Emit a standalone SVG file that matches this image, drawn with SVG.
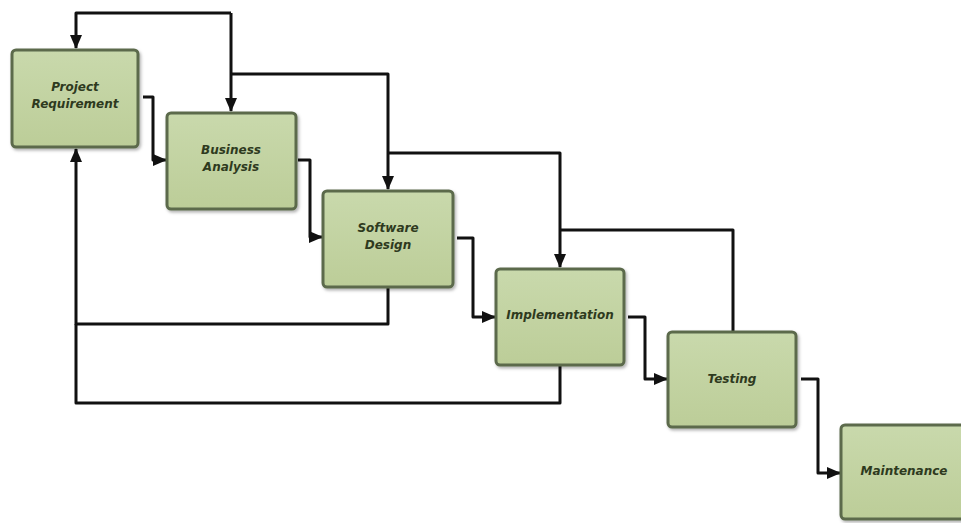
<svg xmlns="http://www.w3.org/2000/svg" width="961" height="523" viewBox="0 0 961 523">
<style>
.box{fill:url(#g);stroke:#5b6a4b;stroke-width:3}
.lbl{font-family:"DejaVu Sans","Liberation Sans",sans-serif;font-size:12px;font-weight:bold;font-style:italic;fill:#2e3a1e;text-anchor:middle}
.c{fill:none;stroke:#111;stroke-width:3;stroke-linejoin:round;stroke-linecap:butt}
</style>
<defs>
<linearGradient id="g" x1="0" y1="0" x2="0" y2="1">
<stop offset="0" stop-color="#c9d9ac"/>
<stop offset="1" stop-color="#bccd98"/>
</linearGradient>
<filter id="sh" x="-10%" y="-10%" width="125%" height="125%">
<feDropShadow dx="1.5" dy="2" stdDeviation="1.5" flood-color="#000" flood-opacity="0.3"/>
</filter>
<marker id="ah" markerUnits="userSpaceOnUse" markerWidth="14" markerHeight="12" refX="13" refY="6" orient="auto">
<path d="M0,0 L14,6 L0,12 Z" fill="#111"/>
</marker>
</defs>
<g id="connectors">
<path class="c" d="M231,13 L76,13 L76,48" marker-end="url(#ah)"/>
<path class="c" d="M231,13 L231,111" marker-end="url(#ah)"/>
<path class="c" d="M231,74 L388,74 L388,189" marker-end="url(#ah)"/>
<path class="c" d="M388,153 L560,153 L560,267" marker-end="url(#ah)"/>
<path class="c" d="M733,332 L733,230 L560,230"/>
<path class="c" d="M388,287 L388,324 L76,324 L76,149" marker-end="url(#ah)"/>
<path class="c" d="M560,365 L560,403 L76,403 L76,324"/>
<path class="c" d="M143,97 L153,97 L153,160 L166,160" marker-end="url(#ah)"/>
<path class="c" d="M298,160 L310,160 L310,237 L322,237" marker-end="url(#ah)"/>
<path class="c" d="M457,238 L473,238 L473,317 L495,317" marker-end="url(#ah)"/>
<path class="c" d="M628,317 L645,317 L645,379 L667,379" marker-end="url(#ah)"/>
<path class="c" d="M801,379 L818,379 L818,473 L840,473" marker-end="url(#ah)"/>
</g>
<g id="project-requirement">
<rect class="box" x="12" y="50" width="126" height="97" rx="4" filter="url(#sh)"/>
<text class="lbl" x="75" y="91">Project</text>
<text class="lbl" x="75" y="108">Requirement</text>
</g>
<g id="business-analysis">
<rect class="box" x="167" y="113" width="129" height="96" rx="4" filter="url(#sh)"/>
<text class="lbl" x="231" y="154">Business</text>
<text class="lbl" x="231" y="171">Analysis</text>
</g>
<g id="software-design">
<rect class="box" x="323" y="191" width="130" height="96" rx="4" filter="url(#sh)"/>
<text class="lbl" x="388" y="232">Software</text>
<text class="lbl" x="388" y="249">Design</text>
</g>
<g id="implementation">
<rect class="box" x="496" y="269" width="128" height="96" rx="4" filter="url(#sh)"/>
<text class="lbl" x="560" y="319">Implementation</text>
</g>
<g id="testing">
<rect class="box" x="668" y="332" width="128" height="95" rx="4" filter="url(#sh)"/>
<text class="lbl" x="732" y="383">Testing</text>
</g>
<g id="maintenance">
<rect class="box" x="841" y="425" width="128" height="94" rx="4" filter="url(#sh)"/>
<text class="lbl" x="904" y="475">Maintenance</text>
</g>
</svg>
